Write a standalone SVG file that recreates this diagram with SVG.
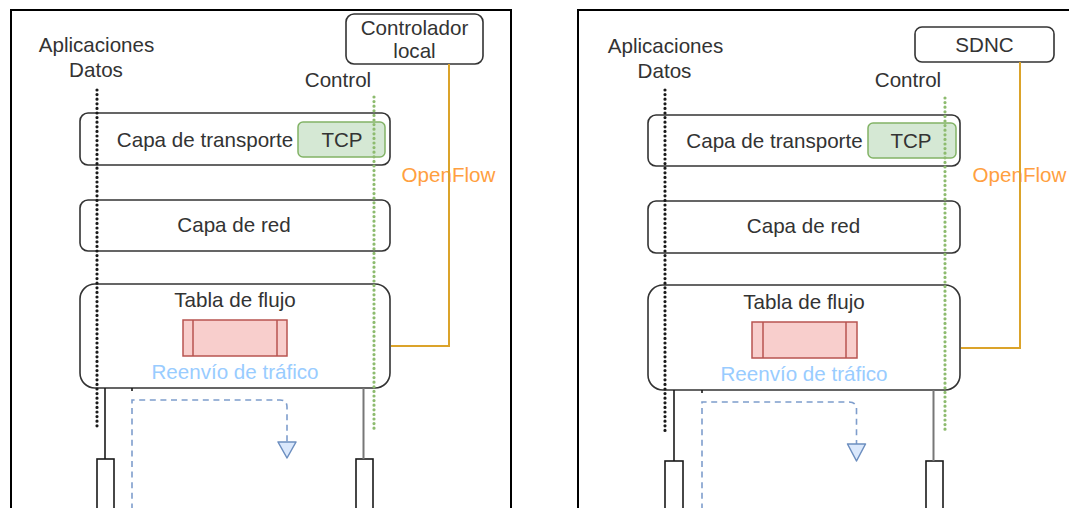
<svg xmlns="http://www.w3.org/2000/svg" width="1069" height="508" viewBox="0 0 1069 508">
  <style>
    text { font-family: "Liberation Sans", Arial, sans-serif; font-size: 20.6px; fill: #333333; text-anchor: middle; }
    .frame { fill: none; stroke: #000000; stroke-width: 2; }
    .layer { fill: #ffffff; stroke: #333333; stroke-width: 1.6; }
    .ctrl { fill: #ffffff; stroke: #333333; stroke-width: 1.6; }
    .tcp { fill: #d5e8d4; stroke: #82b366; stroke-width: 1.5; }
    .flow { fill: #f8cecc; stroke: #b85450; stroke-width: 1.5; }
    .port { fill: #ffffff; stroke: #1a1a1a; stroke-width: 1.6; }
    .data { fill: none; stroke: #1a1a1a; stroke-width: 3.2; stroke-linecap: round; stroke-dasharray: 0 4.6; }
    .control { fill: none; stroke: #8dbb6e; stroke-width: 3.2; stroke-linecap: round; stroke-dasharray: 0 4.6; }
    .of { fill: none; stroke: #dba32a; stroke-width: 2; }
    .link { fill: none; stroke: #1a1a1a; stroke-width: 1.6; }
    .link-gray { fill: none; stroke: #777777; stroke-width: 2; }
    .fwd { fill: none; stroke: #7e9dcc; stroke-width: 1.6; stroke-dasharray: 6 4.6; }
    .head { fill: #dae8fc; stroke: #6c8ebf; stroke-width: 1.5; stroke-linejoin: round; }
    .of-label { fill: #ffa040; }
    .fwd-label { fill: #99ccff; }
  </style>

  <!-- Left panel: switch with local controller -->
  <g id="frame-left">
    <path class="frame" d="M11,512 V10 H511 V512"/>
  </g>
  <g id="controller-local">
    <rect class="ctrl" x="346" y="14" width="137" height="50" rx="8"/>
    <text x="414.5" y="35">Controlador</text>
    <text x="414.5" y="58">local</text>
  </g>
  <g id="label-apps-left">
    <text x="96.5" y="52">Aplicaciones</text>
    <text x="96" y="77">Datos</text>
  </g>
  <g id="label-control-left">
    <text x="338" y="87">Control</text>
  </g>
  <g id="transport-left">
    <rect class="layer" x="80" y="113" width="310" height="52" rx="8"/>
    <text x="205" y="147">Capa de transporte</text>
  </g>
  <g id="tcp-left">
    <rect class="tcp" x="298" y="122" width="87" height="35" rx="5"/>
    <text x="342" y="147">TCP</text>
  </g>
  <g id="network-left">
    <rect class="layer" x="80" y="200" width="310" height="51" rx="8"/>
    <text x="234" y="232">Capa de red</text>
  </g>
  <g id="flowtable-left">
    <rect class="layer" x="80" y="284" width="310" height="104" rx="15"/>
    <text x="235" y="307">Tabla de flujo</text>
    <text class="fwd-label" x="235" y="379">Reenvío de tráfico</text>
  </g>
  <g id="entry-left">
    <rect class="flow" x="183" y="320" width="104" height="36"/>
    <path class="flow" d="M193,320 V356 M277,320 V356"/>
  </g>
  <g id="port-left-a">
    <rect class="port" x="97" y="459" width="17" height="60"/>
  </g>
  <g id="port-left-b">
    <rect class="port" x="356" y="459" width="17" height="60"/>
  </g>
  <g id="label-openflow-left">
    <text class="of-label" x="448.5" y="182">OpenFlow</text>
  </g>

  <!-- Right panel: switch with SDN controller -->
  <g id="frame-right">
    <path class="frame" d="M578,512 V10 H1072"/>
  </g>
  <g id="controller-sdnc">
    <rect class="ctrl" x="915" y="27" width="139" height="35" rx="7"/>
    <text x="984.5" y="52">SDNC</text>
  </g>
  <g id="label-apps-right">
    <text x="665.5" y="53">Aplicaciones</text>
    <text x="664.5" y="78">Datos</text>
  </g>
  <g id="label-control-right">
    <text x="908" y="87">Control</text>
  </g>
  <g id="transport-right">
    <rect class="layer" x="648" y="115" width="312" height="51" rx="8"/>
    <text x="774.5" y="148">Capa de transporte</text>
  </g>
  <g id="tcp-right">
    <rect class="tcp" x="868" y="123" width="88" height="35" rx="5"/>
    <text x="911" y="148">TCP</text>
  </g>
  <g id="network-right">
    <rect class="layer" x="648" y="201" width="312" height="52" rx="8"/>
    <text x="803.5" y="233">Capa de red</text>
  </g>
  <g id="flowtable-right">
    <rect class="layer" x="648" y="285" width="312" height="105" rx="15"/>
    <text x="804" y="309">Tabla de flujo</text>
    <text class="fwd-label" x="804" y="381">Reenvío de tráfico</text>
  </g>
  <g id="entry-right">
    <rect class="flow" x="752" y="322" width="105" height="36"/>
    <path class="flow" d="M763,322 V358 M846,322 V358"/>
  </g>
  <g id="port-right-a">
    <rect class="port" x="665" y="461" width="18" height="60"/>
  </g>
  <g id="port-right-b">
    <rect class="port" x="926" y="461" width="17" height="60"/>
  </g>
  <g id="label-openflow-right">
    <text class="of-label" x="1019.5" y="182">OpenFlow</text>
  </g>

  <!-- Connectors -->
  <g id="connectors">
    <!-- left panel -->
    <line class="data" x1="97" y1="90" x2="97" y2="430"/>
    <line class="control" x1="374" y1="97" x2="374" y2="430"/>
    <path class="of" d="M449,64 V346 H391"/>
    <line class="link" x1="105" y1="388" x2="105" y2="459"/>
    <line class="link-gray" x1="363.5" y1="388" x2="363.5" y2="459"/>
    <line class="link" x1="132" y1="388" x2="132" y2="391"/>
    <path class="fwd" d="M132,520 V400 H280 Q287,400 287,407 V442"/>
    <polygon class="head" points="278,442 296,442 287,458"/>

    <!-- right panel -->
    <line class="data" x1="665" y1="90" x2="665" y2="433"/>
    <line class="control" x1="945" y1="98" x2="945" y2="433"/>
    <path class="of" d="M1020,62 V348 H961"/>
    <line class="link" x1="674" y1="390" x2="674" y2="461"/>
    <line class="link-gray" x1="933.5" y1="390" x2="933.5" y2="461"/>
    <line class="link" x1="702" y1="390" x2="702" y2="393"/>
    <path class="fwd" d="M702,520 V402 H849 Q856.5,402 856.5,409 V444"/>
    <polygon class="head" points="847.5,444 865.5,444 856.5,461"/>
  </g>
</svg>
